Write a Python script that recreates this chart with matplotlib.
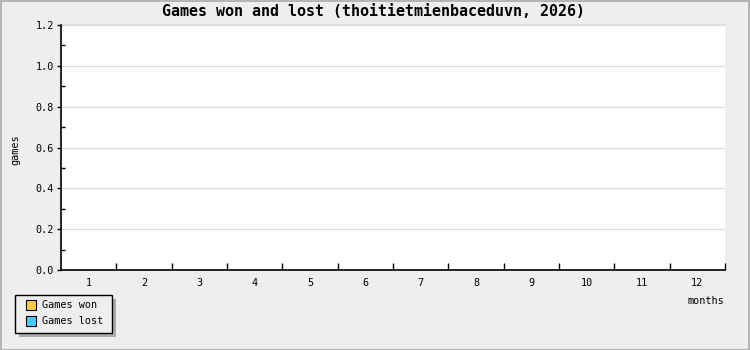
import matplotlib
matplotlib.use('Agg')
import matplotlib.pyplot as plt
from matplotlib.patches import Rectangle

months = [1, 2, 3, 4, 5, 6, 7, 8, 9, 10, 11, 12]
games_won = [0, 0, 0, 0, 0, 0, 0, 0, 0, 0, 0, 0]
games_lost = [0, 0, 0, 0, 0, 0, 0, 0, 0, 0, 0, 0]
y_ticks = [0.0, 0.2, 0.4, 0.6, 0.8, 1.0, 1.2]

mono = 'DejaVu Sans Mono'
small = 7.3
bg = '#eeeeee'
won_col = '#ffcc44'
lost_col = '#44ccff'

fig = plt.figure(figsize=(7.5, 3.5), dpi=100, facecolor=bg)
ax = fig.add_axes([61 / 750, 1 - 270 / 350, 664 / 750, 245 / 350])
ax.set_facecolor('white')

# bars (all zero this year)
w = 0.35
ax.bar([m - w / 2 for m in months], games_won, width=w, color=won_col, edgecolor='black', linewidth=0.8)
ax.bar([m + w / 2 for m in months], games_lost, width=w, color=lost_col, edgecolor='black', linewidth=0.8)

ax.set_xlim(0.5, 12.5)
ax.set_ylim(0, 1.2)

# y axis
ax.set_yticks(y_ticks)
ax.set_yticklabels(['%.1f' % v for v in y_ticks], family=mono, fontsize=small)
ax.set_yticks([0.1, 0.3, 0.5, 0.7, 0.9, 1.1], minor=True)
ax.tick_params(axis='y', which='major', direction='out', length=3, width=1, pad=2)
ax.tick_params(axis='y', which='minor', direction='in', length=3, width=1)
ax.grid(axis='y', which='major', color='#dddddd', linewidth=1)
ax.set_axisbelow(True)

# x axis: ticks at month boundaries, labels in the middle
ax.set_xticks([m + 0.5 for m in months])
ax.set_xticklabels([])
ax.set_xticks(months, minor=True)
ax.set_xticklabels([str(m) for m in months], minor=True, family=mono, fontsize=small)
ax.tick_params(axis='x', which='major', direction='in', length=5, width=1)
ax.tick_params(axis='x', which='minor', length=0, pad=6)

for s in ['top', 'right']:
    ax.spines[s].set_visible(False)
for s in ['left', 'bottom']:
    ax.spines[s].set_linewidth(1.2)

# top boundary line at 1.2
ax.axhline(1.2, color='#dddddd', linewidth=1.5, clip_on=False)

fig.text(374 / 750, 1 - 12 / 350, 'Games won and lost (thoitietmienbaceduvn, 2026)',
         ha='center', va='center', family=mono, fontsize=10.8, fontweight='bold')
fig.text(15 / 750, 1 - 150 / 350, 'games', rotation=90, ha='center', va='center',
         family=mono, fontsize=small)
fig.text(706 / 750, 1 - 301 / 350, 'months', ha='center', va='center',
         family=mono, fontsize=small)

# legend box with shadow
def fx(px):
    return px / 750

def fy(py):
    return 1 - py / 350

fig.patches.append(Rectangle((fx(19), fy(337)), fx(97), 38 / 350, transform=fig.transFigure,
                             facecolor='#aaaaaa', edgecolor='none'))
fig.patches.append(Rectangle((fx(15), fy(333)), fx(97), 38 / 350, transform=fig.transFigure,
                             facecolor=bg, edgecolor='black', linewidth=1))
labels = ['Games won', 'Games lost']
colors = [won_col, lost_col]
for i in range(2):
    yc = 305 + i * 16
    fig.patches.append(Rectangle((fx(25.5), fy(yc + 5)), fx(10), 10 / 350, transform=fig.transFigure,
                                 facecolor=colors[i], edgecolor='black', linewidth=0.8))
    fig.text(fx(42), fy(yc), labels[i], ha='left', va='center', family=mono, fontsize=small)

# outer frame
fig.patches.append(Rectangle((0.5 / 750, 0.5 / 350), 748.5 / 750, 348.5 / 350, transform=fig.transFigure,
                             facecolor='none', edgecolor='#aaaaaa', linewidth=1.2))

fig.savefig('out.png', dpi=100, facecolor=bg)
